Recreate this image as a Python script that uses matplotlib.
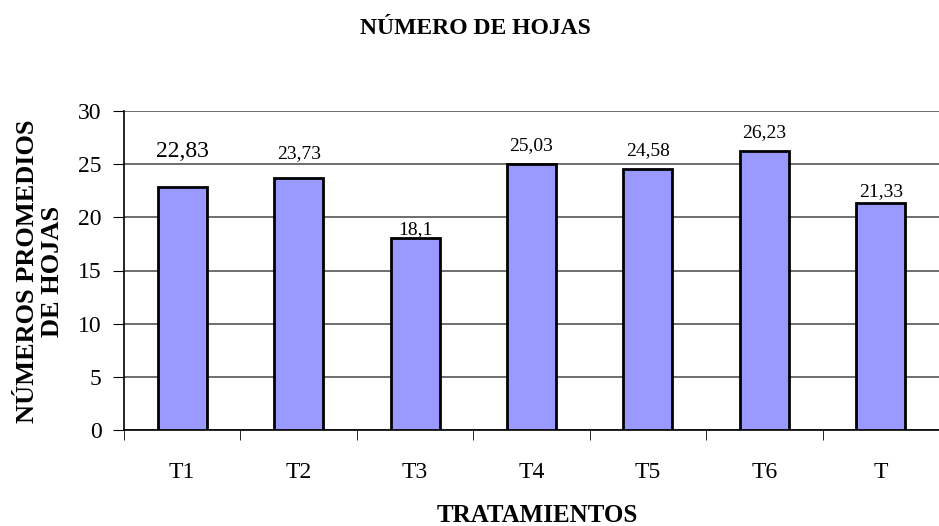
import matplotlib
matplotlib.use("Agg")
import matplotlib.pyplot as plt
import numpy as np

# Data
categories = ["T1", "T2", "T3", "T4", "T5", "T6", "T"]
values = [22.83, 23.73, 18.1, 25.03, 24.58, 26.23, 21.33]
value_labels = ["22,83", "23,73", "18,1", "25,03", "24,58", "26,23", "21,33"]

# Label styling (offset above bar in points, font size)
LABEL_OFFSETS = [26, 17, 6, 13, 13, 13, 8]
LABEL_SIZES = [17, 14, 14, 14, 14, 14, 14]

BAR_COLOR = "#9999FF"
GRID_COLOR = "#555555"

plt.rcParams["font.family"] = ["Liberation Serif", "DejaVu Serif"]

fig = plt.figure(figsize=(9.39, 5.26), dpi=100)
ax = fig.add_axes([124 / 939, 1 - 430 / 526, (939 - 124) / 939, (430 - 111) / 526])

x = np.arange(len(categories))
ax.bar(x, values, width=0.42, color=BAR_COLOR, edgecolor="black", linewidth=2, zorder=3)

for xi, v, lab, off, fs in zip(x, values, value_labels, LABEL_OFFSETS, LABEL_SIZES):
    ax.annotate(lab, (xi, v), xytext=(0, off), textcoords="offset points",
                ha="center", va="center", fontsize=fs, zorder=4)

ax.set_ylim(0, 30)
ax.set_xlim(-0.5, len(categories) - 0.5)
ax.set_yticks(range(0, 31, 5))
ax.tick_params(axis="y", labelsize=17, length=8, direction="out", pad=8)
ax.yaxis.grid(True, color=GRID_COLOR, linewidth=1.2, zorder=0)
ax.set_axisbelow(True)

ax.set_xticks(x)
ax.set_xticklabels(categories, fontsize=17)
ax.tick_params(axis="x", length=0, pad=23)
ax.set_xticks(np.arange(-0.5, len(categories), 1), minor=True)
ax.tick_params(axis="x", which="minor", length=7, direction="out", color="black")

for side in ["top", "right"]:
    ax.spines[side].set_visible(False)
ax.spines["left"].set_color("black")
ax.spines["bottom"].set_color("black")
ax.spines["left"].set_linewidth(1.2)
ax.spines["bottom"].set_linewidth(1.2)

fig.text(475 / 939, 1 - 28 / 526, "NÚMERO DE HOJAS", ha="center", va="center",
         fontsize=17, fontweight="bold")
fig.text(537 / 939, 1 - 516 / 526, "TRATAMIENTOS", ha="center", va="center",
         fontsize=18, fontweight="bold")
fig.text(40 / 939, 1 - 271 / 526, "NÚMEROS PROMEDIOS\nDE HOJAS", ha="center", va="center",
         rotation=90, fontsize=19, fontweight="bold", linespacing=1.15)

fig.savefig("out.png", dpi=100)
